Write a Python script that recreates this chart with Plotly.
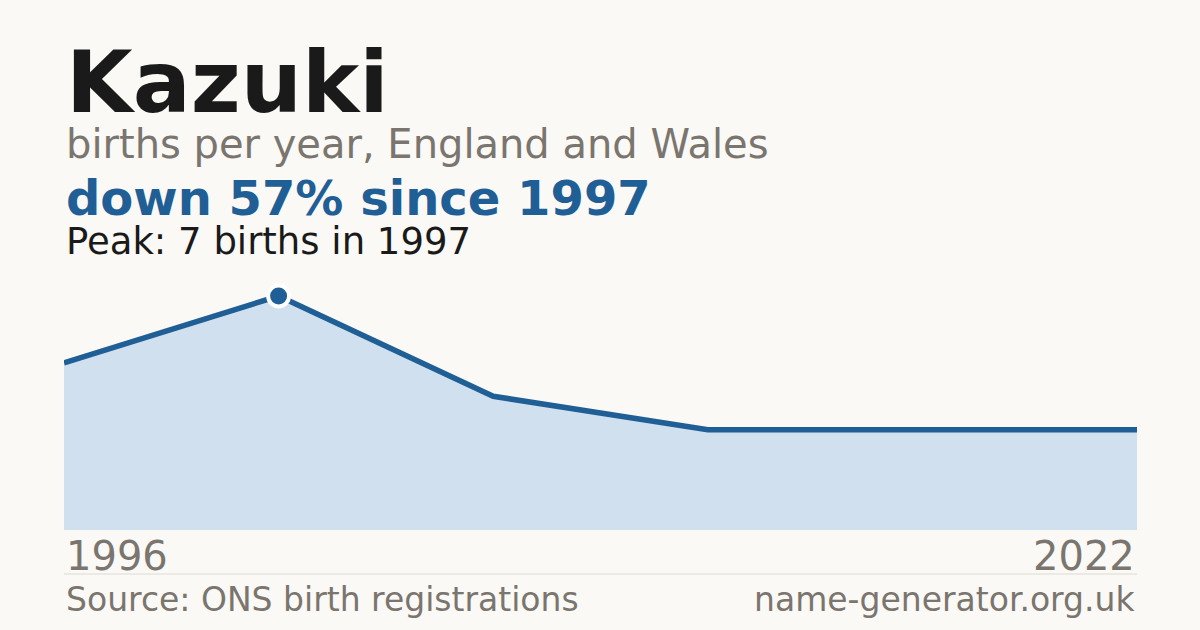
# 3rd party modules
import plotly.graph_objects as pgo

NAME = 'Kazuki'
SUBTITLE = 'births per year, England and Wales'
FIRST_YEAR = '1996'
LAST_YEAR = '2022'
PEAK_YEAR = '1997'
# births per recorded point, oldest first (points are spaced evenly)
BIRTHS = [5, 7, 4, 3, 3, 3]
SOURCE = 'Source: ONS birth registrations'
SITE = 'name-generator.org.uk'

BG = '#faf9f5'
INK = '#1a1a1a'
GREY = '#7a756e'
BLUE = '#1f5f96'
FILL = '#d0e0ef'
FONT = 'DejaVu Sans'

# plot area in pixels
W, H = 1200, 630
LEFT, RIGHT = 64, 1137
TOP, BOTTOM = 280, 530


def py(pixel_y: float) -> float:
    """pixel row -> paper y"""
    return (BOTTOM - pixel_y) / (BOTTOM - TOP)


def main():
    xs = list(range(len(BIRTHS)))
    peak = max(BIRTHS)
    i_peak = BIRTHS.index(peak)
    drop = round((peak - BIRTHS[-1]) / peak * 100)

    fig = pgo.Figure()
    fig.add_trace(pgo.Scatter(
        x=xs, y=BIRTHS, mode='lines', fill='tozeroy',
        fillcolor=FILL, line=dict(color=BLUE, width=5.5),
        hoverinfo='skip'
    ))
    fig.add_trace(pgo.Scatter(
        x=[xs[i_peak]], y=[peak], mode='markers',
        marker=dict(size=21, color=BLUE, line=dict(color='white', width=4)),
        hoverinfo='skip'
    ))

    def note(text, x, y, size, color, bold=False, anchor='left', xref='paper'):
        fig.add_annotation(
            text=f'<b>{text}</b>' if bold else text,
            x=x, y=py(y), xref=xref, yref='paper',
            xanchor=anchor, yanchor='middle', showarrow=False,
            font=dict(family=FONT, size=size, color=color)
        )

    note(NAME, 0, 82, 86, INK, bold=True)
    note(SUBTITLE, 0, 144, 40, GREY)
    note(f'down {drop}% since {PEAK_YEAR}', 0, 198, 48, BLUE, bold=True)
    note(f'Peak: {peak} births in {PEAK_YEAR}', 0, 241, 37, INK)
    note(FIRST_YEAR, xs[0], 556, 40, GREY, xref='x')
    note(LAST_YEAR, xs[-1], 556, 40, GREY, anchor='right', xref='x')
    note(SOURCE, 0, 599, 33, GREY)
    note(SITE, 1, 599, 33, GREY, anchor='right')

    fig.add_shape(type='line', xref='paper', yref='paper',
                  x0=0, x1=1, y0=py(574), y1=py(574),
                  line=dict(color='#dcdad4', width=1))

    fig.update_layout(
        width=W, height=H,
        margin=dict(l=LEFT, r=W - RIGHT, t=TOP, b=H - BOTTOM),
        paper_bgcolor=BG, plot_bgcolor=BG,
        showlegend=False,
        xaxis=dict(range=[xs[0], xs[-1]], visible=False, fixedrange=True),
        yaxis=dict(range=[0, peak * (BOTTOM - TOP) / (BOTTOM - 296)],
                   visible=False, fixedrange=True),
    )
    # drop the browser's default page margin so the card sits at 0,0
    fig.write_html('out.html', config={'displayModeBar': False},
                   post_script="document.body.style.margin='0';")


if __name__ == '__main__':
    main()
